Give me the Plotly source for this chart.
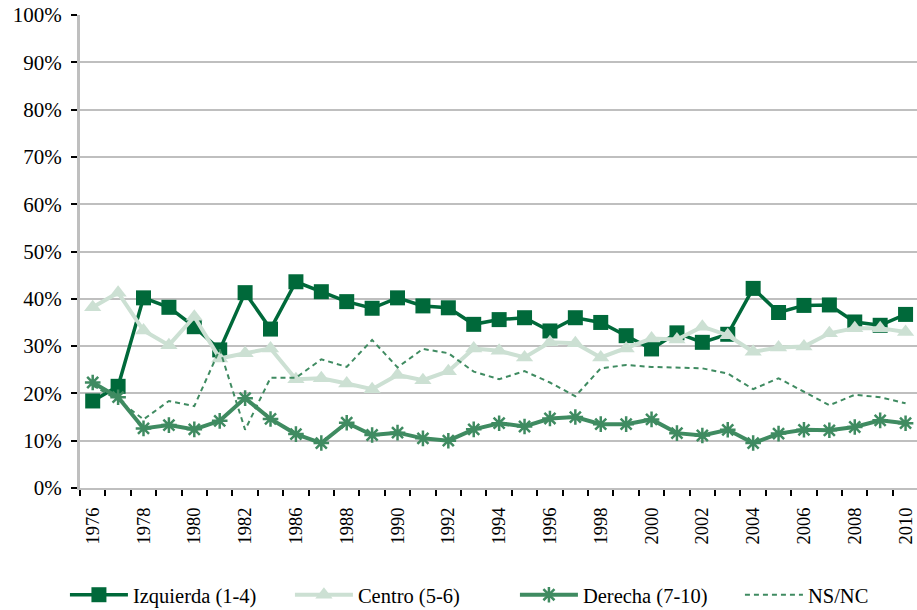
import plotly.graph_objects as go

years = ["1976", "1977", "1978", "1979", "1980", "1981", "1982", "1984", "1986", "1987",
         "1988", "1989", "1990", "1991", "1992", "1993", "1994", "1995", "1996", "1997",
         "1998", "1999", "2000", "2001", "2002", "2003", "2004", "2005", "2006", "2007",
         "2008", "2009", "2010"]
tick_labels = [y if i % 2 == 0 else "" for i, y in enumerate(years)]

izquierda = [18.4, 21.5, 40.2, 38.2, 34.1, 29.2, 41.3, 33.6, 43.6, 41.5, 39.4, 38.0, 40.2,
             38.5, 38.1, 34.6, 35.6, 36.0, 33.2, 36.0, 35.0, 32.2, 29.4, 32.8, 30.8, 32.5,
             42.2, 37.1, 38.6, 38.7, 35.1, 34.4, 36.7]
centro = [38.2, 41.3, 33.3, 30.2, 36.2, 27.4, 28.5, 29.5, 23.0, 23.2, 22.1, 20.9, 23.9,
          22.8, 24.7, 29.5, 29.0, 27.6, 30.8, 30.6, 27.6, 29.5, 31.6, 31.4, 34.1, 32.3,
          28.8, 29.7, 29.9, 32.7, 33.8, 33.8, 33.0]
derecha = [22.3, 19.2, 12.6, 13.3, 12.4, 14.2, 19.0, 14.6, 11.4, 9.5, 13.8, 11.2, 11.7,
           10.5, 10.0, 12.4, 13.7, 13.0, 14.7, 15.0, 13.5, 13.5, 14.5, 11.6, 11.1, 12.3,
           9.5, 11.5, 12.3, 12.2, 12.9, 14.3, 13.7]
nsnc = [21.7, 18.6, 14.5, 18.4, 17.3, 29.3, 12.3, 23.3, 23.3, 27.2, 25.6, 31.3, 25.5,
        29.4, 28.5, 24.6, 23.0, 24.7, 22.3, 19.4, 25.3, 26.0, 25.6, 25.5, 25.3, 24.2,
        20.9, 23.2, 20.4, 17.5, 19.7, 19.2, 17.9]

C_IZQ = "#00693A"
C_CEN = "#CCE0D3"
C_DER = "#3F8B61"
FONT = "Liberation Serif"

fig = go.Figure()
fig.add_trace(go.Scatter(x=years, y=izquierda, name="Izquierda (1-4)", mode="lines+markers",
                         line=dict(color=C_IZQ, width=3.5),
                         marker=dict(symbol="square", size=15, color=C_IZQ)))
fig.add_trace(go.Scatter(x=years, y=centro, name="Centro (5-6)", mode="lines+markers",
                         line=dict(color=C_CEN, width=4),
                         marker=dict(symbol="triangle-up", size=15, color=C_CEN)))
fig.add_trace(go.Scatter(x=years, y=derecha, name="Derecha (7-10)", mode="lines+markers",
                         line=dict(color=C_DER, width=4),
                         marker=dict(symbol="asterisk-open", size=13, color=C_DER,
                                     line=dict(color=C_DER, width=2.5))))
fig.add_trace(go.Scatter(x=years, y=nsnc, name="NS/NC", mode="lines",
                         line=dict(color=C_DER, width=2, dash="5px,4px")))

fig.update_layout(
    width=917, height=610,
    margin=dict(l=80, r=0, t=15, b=122, autoexpand=False),
    paper_bgcolor="white", plot_bgcolor="white",
    font=dict(family=FONT, color="black"),
    showlegend=True,
    legend=dict(orientation="h", x=-0.018, xanchor="left", y=-0.226, yanchor="middle",
                font=dict(family=FONT, size=20.5, color="black"),
                itemwidth=58, entrywidth=152, entrywidthmode="pixels",
                bgcolor="rgba(0,0,0,0)"),
)
fig.update_xaxes(
    type="category", range=[-0.5, 32.45], automargin=False,
    tickmode="array", tickvals=years, ticktext=tick_labels, tickson="boundaries",
    tickangle=-90, tickfont=dict(family=FONT, size=18.5, color="black"),
    ticks="outside", ticklen=6, tickwidth=2, tickcolor="black", ticklabelstandoff=10,
    ticklabeloverflow="allow",
    showgrid=False, showline=True, linecolor="#BFBFBF", linewidth=2,
)
fig.update_yaxes(
    range=[0, 100], dtick=10, ticksuffix="%", automargin=False,
    tickfont=dict(family=FONT, size=21, color="black"),
    ticks="outside", ticklen=6, tickwidth=2, tickcolor="black", ticklabelstandoff=5,
    ticklabeloverflow="allow",
    showgrid=True, gridcolor="#BFBFBF", gridwidth=2,
    showline=True, linecolor="#BFBFBF", linewidth=3, zeroline=False,
)

fig.write_html("out.html", config={"displayModeBar": False},
               post_script="document.body.style.margin='0';")
